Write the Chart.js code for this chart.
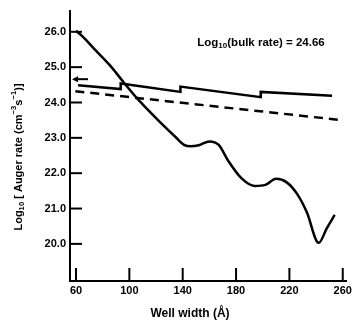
<!DOCTYPE html>
<html>
<head>
<meta charset="utf-8">
<script src="https://cdn.jsdelivr.net/npm/chart.js@4.4.0/dist/chart.umd.min.js"></script>
<style>
  html, body { margin: 0; padding: 0; background: #fff; }
  #wrap { width: 355px; height: 326px; }
</style>
</head>
<body>
<div id="wrap"><canvas id="chart" width="355" height="326"></canvas></div>
<script>
// Well width (Angstrom) vs log10 of Auger rate
const curveWidths = [60, 66, 72.6, 85, 96, 106, 120, 135, 141, 146, 152, 160, 167, 174, 184, 194, 202, 210, 218, 226, 233, 242, 248, 254];
const curveRates  = [26.03, 25.83, 25.56, 25.07, 24.56, 24.11, 23.56, 23.01, 22.80, 22.76, 22.79, 22.90, 22.80, 22.36, 21.86, 21.64, 21.67, 21.84, 21.74, 21.40, 20.90, 20.03, 20.44, 20.82];

// upper solid line with small steps
const stepWidths = [61.5, 93.5, 93.5, 138.3, 138.3, 198.5, 198.5, 252];
const stepRates  = [24.49, 24.38, 24.54, 24.30, 24.45, 24.15, 24.30, 24.19];

// dashed line
const dashWidths = [59.5, 257];
const dashRates  = [24.32, 23.51];

const bulkRate = 24.66;
const xTicks = [60, 100, 140, 180, 220, 260];
const yTicks = [20, 21, 22, 23, 24, 25, 26];

const FONT = '"Liberation Sans", Arial, sans-serif';

function toPoints(xs, ys) {
    return xs.map((x, i) => ({ x: x, y: ys[i] }));
}

// draw a string made of runs (normal / sub / super) centred at x,y
function drawRuns(ctx, runs, x, y, size) {
    let total = 0;
    runs.forEach(r => {
        const s = r.small ? size * 0.7 : size;
        ctx.font = 'bold ' + s + 'px ' + FONT;
        r.w = ctx.measureText(r.t).width;
        total += r.w;
    });
    let cx = x - total / 2;
    runs.forEach(r => {
        const s = r.small ? size * 0.7 : size;
        ctx.font = 'bold ' + s + 'px ' + FONT;
        ctx.fillText(r.t, cx, y + (r.dy || 0));
        cx += r.w;
    });
}

const extras = {
    id: 'extras',
    afterDraw(chart) {
        const ctx = chart.ctx;
        const xs = chart.scales.x;
        const ys = chart.scales.y;
        const area = chart.chartArea;
        ctx.save();
        ctx.strokeStyle = '#000';
        ctx.fillStyle = '#000';
        ctx.lineWidth = 2;

        // inward tick marks
        yTicks.forEach(v => {
            const py = ys.getPixelForValue(v);
            ctx.beginPath();
            ctx.moveTo(area.left, py);
            ctx.lineTo(area.left + 12, py);
            ctx.stroke();
        });
        xTicks.forEach(v => {
            const px = xs.getPixelForValue(v);
            ctx.beginPath();
            ctx.moveTo(px, area.bottom);
            ctx.lineTo(px, area.bottom - 13);
            ctx.stroke();
        });

        // bulk rate arrow
        const ay = ys.getPixelForValue(bulkRate);
        const ax0 = xs.getPixelForValue(57);
        const ax1 = xs.getPixelForValue(69);
        ctx.beginPath();
        ctx.moveTo(ax0 + 2, ay);
        ctx.lineTo(ax1, ay);
        ctx.stroke();
        ctx.beginPath();
        ctx.moveTo(ax0, ay);
        ctx.lineTo(ax0 + 6, ay - 3);
        ctx.lineTo(ax0 + 6, ay + 3);
        ctx.closePath();
        ctx.fill();

        // annotation
        ctx.textBaseline = 'middle';
        drawRuns(ctx, [
            { t: 'Log' },
            { t: '10', small: true, dy: 3 },
            { t: '(bulk rate) = ' + bulkRate.toFixed(2) }
        ], 261, 43, 11.5);

        // x axis title
        drawRuns(ctx, [{ t: 'Well width (Å)' }], 190, 314, 12);

        // y axis title
        ctx.translate(19, 157);
        ctx.rotate(-Math.PI / 2);
        drawRuns(ctx, [
            { t: 'Log' },
            { t: '10', small: true, dy: 3 },
            { t: ' [ Auger rate (cm' },
            { t: '\u22123', small: true, dy: -5 },
            { t: 's' },
            { t: '\u22121', small: true, dy: -5 },
            { t: ')]' }
        ], 0, 0, 11);
        ctx.restore();
    }
};

new Chart(document.getElementById('chart').getContext('2d'), {
    type: 'line',
    data: {
        datasets: [{
            data: toPoints(curveWidths, curveRates),
            borderColor: '#000',
            borderWidth: 2.5,
            pointRadius: 0,
            cubicInterpolationMode: 'monotone'
        }, {
            data: toPoints(stepWidths, stepRates),
            borderColor: '#000',
            borderWidth: 2.5,
            pointRadius: 0,
            tension: 0
        }, {
            data: toPoints(dashWidths, dashRates),
            borderColor: '#000',
            borderWidth: 2.5,
            borderDash: [9, 6],
            pointRadius: 0,
            tension: 0
        }]
    },
    options: {
        responsive: false,
        animation: false,
        layout: { padding: { top: 3, right: 5, left: 0, bottom: 0 } },
        plugins: {
            legend: { display: false },
            tooltip: { enabled: false }
        },
        scales: {
            x: {
                type: 'linear',
                min: 55.5,
                max: 263,
                afterFit(scale) { scale.height = 45; },
                afterBuildTicks(scale) { scale.ticks = xTicks.map(v => ({ value: v })); },
                grid: { display: false, drawTicks: false },
                border: { display: true, color: '#000', width: 2 },
                ticks: {
                    padding: 3,
                    color: '#000',
                    maxRotation: 0,
                    font: { family: FONT, size: 11, weight: 'bold' },
                    callback: v => String(v)
                }
            },
            y: {
                type: 'linear',
                min: 18.95,
                max: 26.6,
                afterFit(scale) { scale.width = 70; },
                afterBuildTicks(scale) { scale.ticks = yTicks.map(v => ({ value: v })); },
                grid: { display: false, drawTicks: false },
                border: { display: true, color: '#000', width: 2 },
                ticks: {
                    padding: 4,
                    color: '#000',
                    font: { family: FONT, size: 11, weight: 'bold' },
                    callback: v => Number(v).toFixed(1)
                }
            }
        }
    },
    plugins: [extras]
});
</script>
</body>
</html>
